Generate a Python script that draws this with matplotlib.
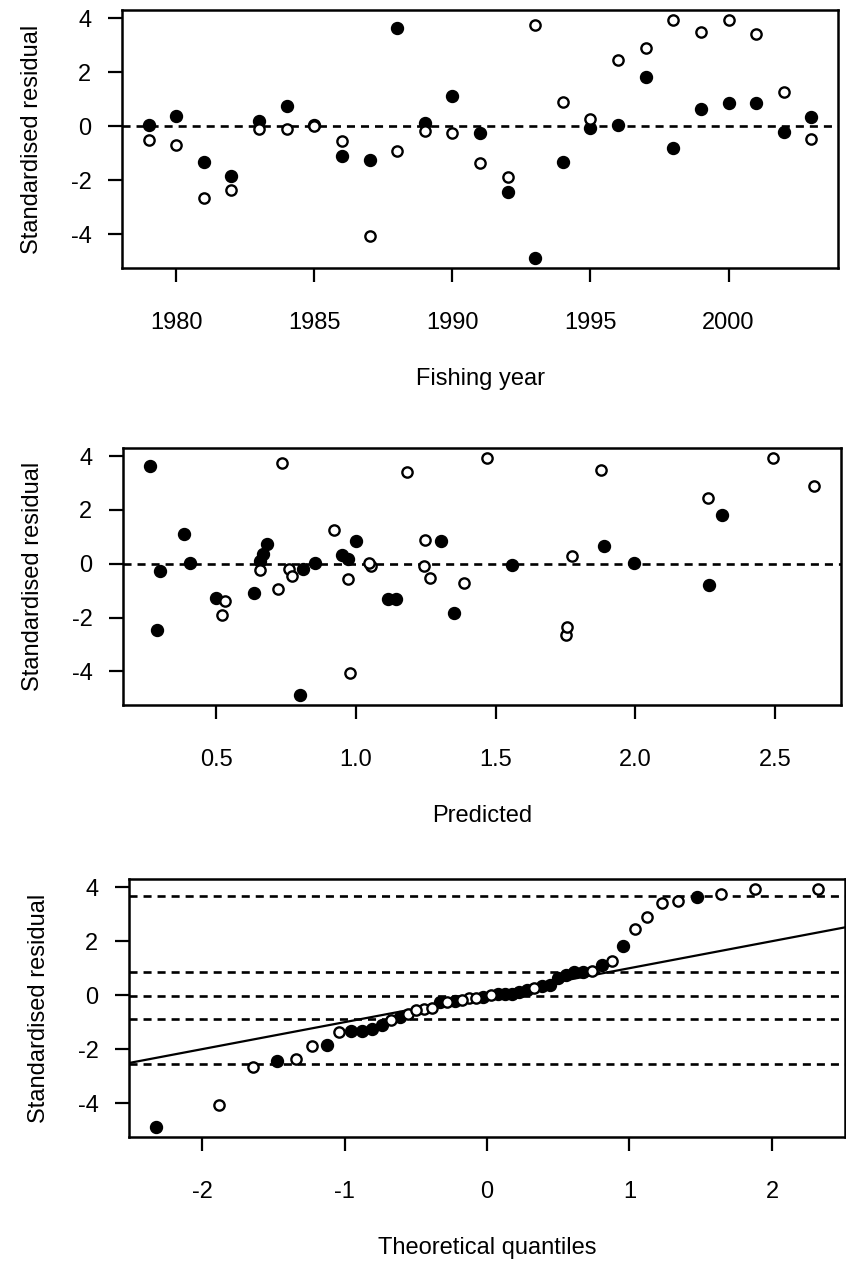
import matplotlib
matplotlib.use("Agg")
import matplotlib.pyplot as plt
import numpy as np
from statistics import NormalDist

plt.rcParams["font.family"] = ["Liberation Sans", "DejaVu Sans"]
plt.rcParams["lines.scale_dashes"] = False

# Fishing years and standardised residuals for the two series
years = list(range(1979, 2004))
resid_filled = [0.03, 0.37, -1.31, -1.84, 0.18, 0.74, 0.03, -1.10, -1.26, 3.62,
                0.12, 1.10, -0.27, -2.45, -4.90, -1.31, -0.06, 0.04, 1.82, -0.80,
                0.65, 0.86, 0.86, -0.21, 0.34]
resid_open = [-0.53, -0.70, -2.65, -2.35, -0.10, -0.10, 0.02, -0.55, -4.08, -0.93,
              -0.18, -0.24, -1.37, -1.90, 3.74, 0.88, 0.27, 2.45, 2.90, 3.95,
              3.49, 3.95, 3.43, 1.25, -0.46]

# Predicted values for each series
pred_filled = [0.405, 0.668, 1.113, 1.352, 0.970, 0.683, 0.852, 0.635, 0.500, 0.262,
               0.657, 0.384, 0.300, 0.288, 0.800, 1.143, 1.558, 1.995, 2.310, 2.262,
               1.889, 0.999, 1.306, 0.810, 0.950]
pred_open = [1.265, 1.385, 1.750, 1.754, 1.055, 1.242, 1.047, 0.970, 0.979, 0.720,
             0.760, 0.657, 0.531, 0.520, 0.737, 1.248, 1.772, 2.260, 2.640, 1.469,
             1.877, 2.493, 1.182, 0.920, 0.770]

year_ticks = [1980, 1985, 1990, 1995, 2000]
pred_ticks = [0.5, 1.0, 1.5, 2.0, 2.5]
qq_ticks = [-2, -1, 0, 1, 2]
resid_ticks = [-4, -2, 0, 2, 4]
quantile_probs = [0.05, 0.25, 0.5, 0.75, 0.95]

W, H = 846, 1262
fig = plt.figure(figsize=(W / 100, H / 100), dpi=100)


def add_axes_px(left, right, top, bottom):
    return fig.add_axes([left / W, 1 - bottom / H, (right - left) / W, (bottom - top) / H])


def r_range(vals):
    lo, hi = min(vals), max(vals)
    pad = 0.04 * (hi - lo)
    return lo - pad, hi + pad


FS = 17
DASH = (0, (5.8, 4.3))
MS_F = 8.6
MS_O = 7.4


def style(ax, xticks, xticklabels, xlabel):
    for s in ax.spines.values():
        s.set_linewidth(1.8)
    ax.set_xticks(xticks)
    ax.set_xticklabels(xticklabels)
    ax.set_yticks(resid_ticks)
    ax.set_yticklabels([str(t) for t in resid_ticks])
    ax.tick_params(axis="both", direction="out", length=10, width=1.6,
                   labelsize=FS, top=False, right=False)
    ax.tick_params(axis="x", pad=22)
    ax.tick_params(axis="y", pad=12)
    ax.set_xlabel(xlabel, fontsize=FS, labelpad=24)
    ax.set_ylabel("Standardised residual", fontsize=FS, labelpad=20)


all_resid = resid_filled + resid_open
ylim = r_range(all_resid)

# Residuals by fishing year
ax1 = add_axes_px(122, 838, 10, 268)
ax1.axhline(0, color="black", lw=1.9, ls=DASH, zorder=1)
ax1.plot(years, resid_filled, "o", color="black", ms=MS_F, zorder=3)
ax1.plot(years, resid_open, "o", mfc="white", mec="black", mew=1.7, ms=MS_O, zorder=4)
ax1.set_xlim(*r_range(years))
ax1.set_ylim(*ylim)
style(ax1, year_ticks, [str(t) for t in year_ticks], "Fishing year")

# Residuals against predicted values
ax2 = add_axes_px(123, 841, 448, 705)
ax2.axhline(0, color="black", lw=1.9, ls=DASH, zorder=1)
ax2.plot(pred_filled, resid_filled, "o", color="black", ms=MS_F, zorder=3)
ax2.plot(pred_open, resid_open, "o", mfc="white", mec="black", mew=1.7, ms=MS_O, zorder=4)
ax2.set_xlim(*r_range(pred_filled + pred_open))
ax2.set_ylim(*ylim)
style(ax2, pred_ticks, [f"{t:.1f}" for t in pred_ticks], "Predicted")

# Normal Q-Q plot of the pooled residuals
n = len(all_resid)
is_filled = [True] * len(resid_filled) + [False] * len(resid_open)
order = np.argsort(all_resid, kind="stable")
nd = NormalDist()
theo = np.empty(n)
for rank, idx in enumerate(order):
    theo[idx] = nd.inv_cdf((rank + 1 - 0.5) / n)
theo_f = [theo[i] for i in range(n) if is_filled[i]]
theo_o = [theo[i] for i in range(n) if not is_filled[i]]

ax3 = add_axes_px(129, 845, 879, 1137)
for q in np.quantile(all_resid, quantile_probs):
    ax3.axhline(q, color="black", lw=1.9, ls=DASH, zorder=1)
xl = r_range(list(theo))
ax3.axline((0, 0), slope=1, color="black", lw=1.6, zorder=2)
ax3.plot(theo_f, resid_filled, "o", color="black", ms=MS_F, zorder=3)
ax3.plot(theo_o, resid_open, "o", mfc="white", mec="black", mew=1.7, ms=MS_O, zorder=4)
ax3.set_xlim(*xl)
ax3.set_ylim(*ylim)
style(ax3, qq_ticks, [str(t) for t in qq_ticks], "Theoretical quantiles")

fig.savefig("out.png", dpi=100)
